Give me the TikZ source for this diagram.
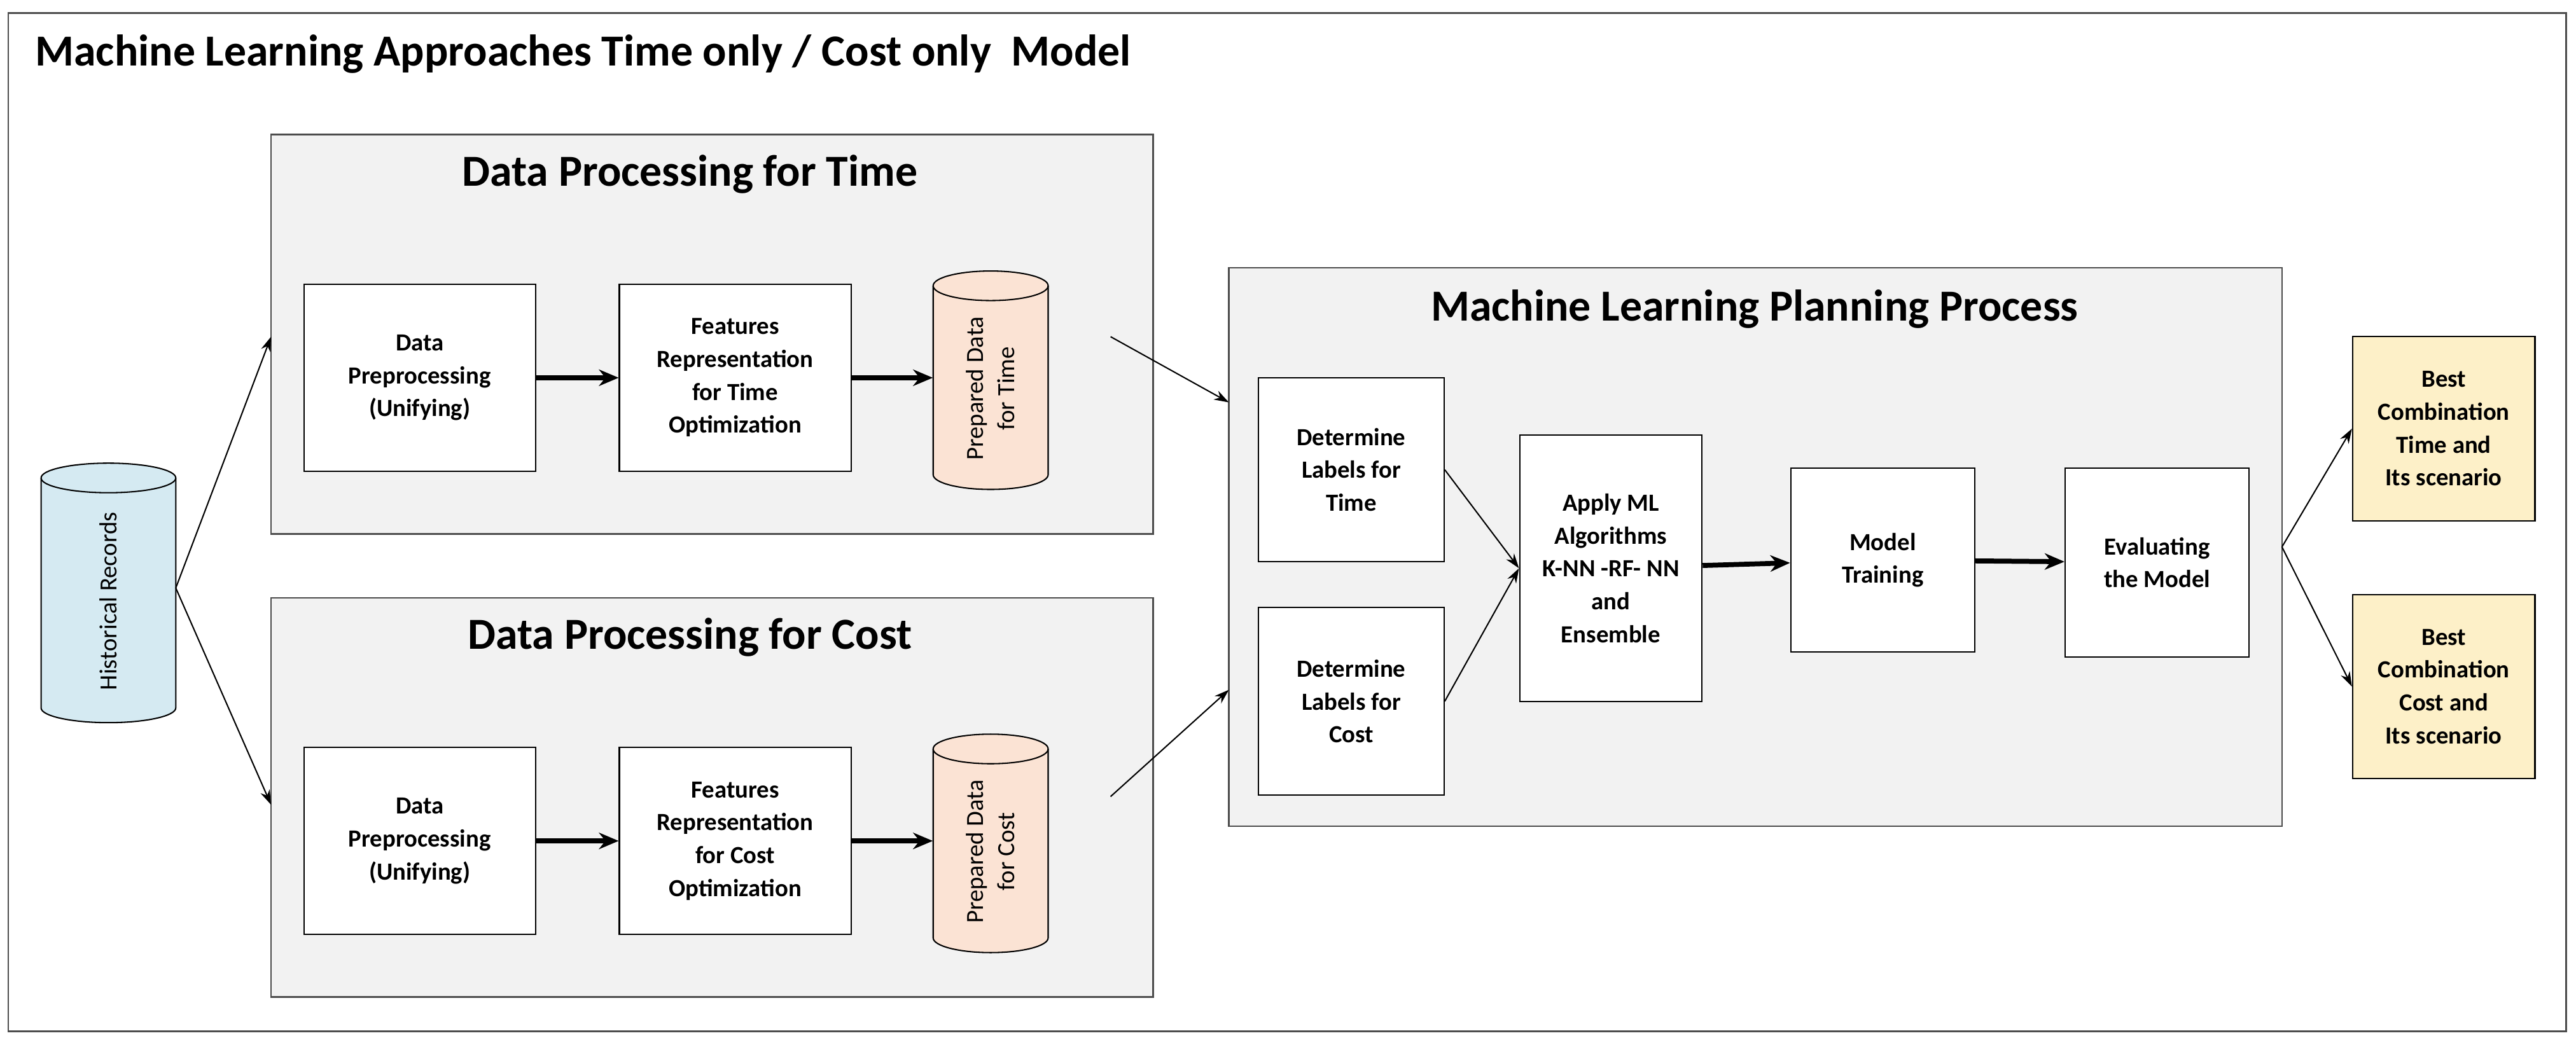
\documentclass[tikz,border=0pt]{standalone}
\usepackage{fontspec}
\setmainfont{Carlito}
\usetikzlibrary{shapes.geometric,arrows.meta}
\definecolor{panel}{HTML}{F2F2F2}
\definecolor{hist}{HTML}{D5EAF2}
\definecolor{prep}{HTML}{FBE3D4}
\definecolor{best}{HTML}{FDF0C8}
\newcommand\mycyl[7]{% name,x,y,w,h,fill,text
 \pgfmathsetmacro\cxl{#2-#4/2}\pgfmathsetmacro\cxr{#2+#4/2}%
 \pgfmathsetmacro\cyt{#3-#5/2+9}\pgfmathsetmacro\cyb{#3+#5/2-9}\pgfmathsetmacro\crx{#4/2}%
 \node[minimum width=#4,minimum height=#5,inner sep=0] (#1) at (#2,#3) {};
 \draw[line width=0.8pt,fill=#6] (\cxl,\cyt) -- (\cxl,\cyb) arc[start angle=180,end angle=0,x radius=\crx,y radius=9] -- (\cxr,\cyt) arc[start angle=0,end angle=-180,x radius=\crx,y radius=9] -- cycle;
 \draw[line width=0.8pt] (\cxl,\cyt) arc[start angle=180,end angle=0,x radius=\crx,y radius=9];
 \node[rotate=90,align=center,font=\fontsize{15}{19}\selectfont] (#1t) at (#2,#3+5) {#7};}
\begin{document}
\begin{tikzpicture}[x=1pt,y=-1pt,
 panelbox/.style={draw=black!70,line width=1pt,fill=panel},
 box/.style={draw=black,line width=0.8pt,fill=white,align=center,font=\fontsize{15}{20}\selectfont\bfseries},
 bestbox/.style={box,fill=best},
 ttl/.style={font=\fontsize{27}{30}\selectfont\bfseries},
 thin/.style={-{Stealth[length=9pt,width=6pt]},line width=0.8pt},
 thick/.style={-{Stealth[length=12pt,width=10pt]},line width=3pt}]
\useasboundingbox (0,0) rectangle (1568,636);
\fill[white] (0,0) rectangle (1568,636);
\draw[black!70,line width=1pt] (5,8) rectangle (1562,628);
\node[anchor=west,font=\fontsize{27}{30}\selectfont\bfseries] (main) at (18,33) {Machine Learning Approaches Time only / Cost only\ \ Model};
% panels
\draw[panelbox] (165,82) rectangle (702,325);
\node[ttl] (tt) at (420,106) {Data Processing for Time};
\draw[panelbox] (165,364) rectangle (702,607);
\node[ttl] (tc) at (420,388) {Data Processing for Cost};
\draw[panelbox] (748,163) rectangle (1389,503);
\node[ttl] (tm) at (1068,188) {Machine Learning Planning Process};
\coordinate (timeL) at (165,205); \coordinate (costL) at (165,490);
\coordinate (timeR) at (676,205); \coordinate (costR) at (676,485);
\coordinate (mlT) at (748,245); \coordinate (mlC) at (748,420);
\coordinate (mlR) at (1389,333);
% historical
\mycyl{hr}{66}{361}{82}{158}{hist}{Historical Records}
% time row
\node[box,minimum width=141,minimum height=114] (dpt) at (255.5,230) {Data\\Preprocessing\\(Unifying)};
\node[box,minimum width=141,minimum height=114] (frt) at (447.5,230) {Features\\Representation\\for Time\\Optimization};
\mycyl{pdt}{603}{231.5}{70}{133}{prep}{Prepared Data\\for Time}
% cost row
\node[box,minimum width=141,minimum height=114] (dpc) at (255.5,512) {Data\\Preprocessing\\(Unifying)};
\node[box,minimum width=141,minimum height=114] (frc) at (447.5,512) {Features\\Representation\\for Cost\\Optimization};
\mycyl{pdc}{603}{513.5}{70}{133}{prep}{Prepared Data\\for Cost}
% ML
\node[box,minimum width=113,minimum height=112] (dlt) at (822.5,286) {Determine\\Labels for\\Time};
\node[box,minimum width=113,minimum height=114] (dlc) at (822.5,427) {Determine\\Labels for\\Cost};
\node[box,minimum width=111,minimum height=162] (ap) at (980.5,346) {Apply ML\\Algorithms\\K-NN -RF- NN\\and\\Ensemble};
\node[box,minimum width=112,minimum height=112] (mt) at (1146,341) {Model\\Training};
\node[box,minimum width=112,minimum height=115] (ev) at (1313,342.5) {Evaluating\\the Model};
\node[bestbox,minimum width=111,minimum height=112] (bt) at (1487.5,261) {Best\\Combination\\Time and\\Its scenario};
\node[bestbox,minimum width=111,minimum height=112] (bc) at (1487.5,418) {Best\\Combination\\Cost and\\Its scenario};
% arrows
\coordinate (hrR) at (107,358);
\draw[thin] (hrR) -- (timeL);
\draw[thin] (hrR) -- (costL);
\draw[thick] (dpt) -- (frt);
\draw[thick] (frt.east) -- (pdt.west |- frt.east);
\draw[thick] (dpc) -- (frc);
\draw[thick] (frc.east) -- (pdc.west |- frc.east);
\draw[thin] (timeR) -- (mlT);
\draw[thin] (costR) -- (mlC);
\draw[thin] (dlt.east) -- (ap.west);
\draw[thin] (dlc.east) -- (ap.west);
\draw[thick] (ap) -- (mt);
\draw[thick] (mt) -- (ev);
\draw[thin] (mlR) -- (bt.west);
\draw[thin] (mlR) -- (bc.west);
\end{tikzpicture}
\end{document}
